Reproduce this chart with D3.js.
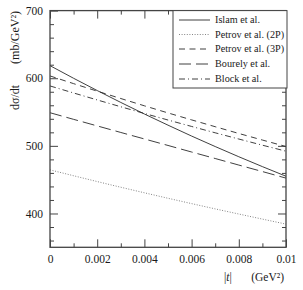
<!DOCTYPE html>
<html>
<head>
<meta charset="utf-8">
<script src="https://cdn.jsdelivr.net/npm/d3@7"></script>
<style>
  html, body { margin: 0; padding: 0; background: #fff; }
  svg { display: block; }
  svg text { font-family: "Liberation Serif", "DejaVu Serif", "Times New Roman", serif; fill: #1a1a1a; }
</style>
</head>
<body>
<div id="chart"></div>
<script>
// |t| values (GeV^2) and dσ/dt curves (mb/GeV^2)
const tValues = [0, 0.001, 0.002, 0.003, 0.004, 0.005, 0.006, 0.007, 0.008, 0.009, 0.01];
const islam   = [618.6, 599.9, 581.8, 564.2, 547.1, 530.6, 514.5, 499.0, 483.9, 469.3, 455.1];
const petrov2 = [464.5, 455.8, 447.2, 438.8, 430.6, 422.5, 414.6, 406.8, 399.2, 391.7, 384.3];
const petrov3 = [603.4, 592.0, 580.9, 570.0, 559.2, 548.7, 538.4, 528.3, 518.3, 508.6, 499.0];
const bourely = [549.0, 539.2, 529.5, 519.8, 510.2, 500.6, 490.9, 481.3, 471.6, 462.0, 452.3];
const block   = [588.6, 578.2, 567.9, 557.8, 547.9, 538.2, 528.7, 519.3, 510.1, 501.0, 492.1];

const seriesNames = ["Islam et al.", "Petrov et al. (2P)", "Petrov et al. (3P)", "Bourely et al.", "Block et al."];
const seriesValues = [islam, petrov2, petrov3, bourely, block];

const xMajorTicks = [0, 0.002, 0.004, 0.006, 0.008, 0.01];
const xMinorTicks = [0.001, 0.003, 0.005, 0.007, 0.009];
const yMajorTicks = [400, 500, 600, 700];
const yMinorTicks = [360, 380, 420, 440, 460, 480, 520, 540, 560, 580, 620, 640, 660, 680];

const W = 303, H = 290;
const plotL = 50, plotR = 286, plotT = 10.6, plotB = 247.3;
const serif = '"Liberation Serif", "DejaVu Serif", "Times New Roman", serif';

// line styles per series
const dashes = [null, "1,1.6", "6,4.5", "12,5", "6,3,1,3"];
const colors = ["#2a2a2a", "#777", "#2a2a2a", "#2a2a2a", "#2a2a2a"];

const svg = d3.select("#chart").append("svg")
  .attr("width", W).attr("height", H)
  .attr("font-family", serif);

const x = d3.scaleLinear().domain([0, 0.01]).range([plotL, plotR]);
const y = d3.scaleLinear().domain([350, 700]).range([plotB, plotT]);

const fmt = d => d === 0 ? "0" : String(+d.toFixed(3));

function styleAxis(g) {
  g.select(".domain").remove();
  g.attr("font-family", serif);
  g.selectAll("line").attr("stroke", "#444").attr("stroke-width", 1);
  g.selectAll("text").attr("font-size", 11.5).attr("fill", "#1a1a1a");
}

// bottom axis
svg.append("g").attr("transform", `translate(0,${plotB})`)
  .call(d3.axisBottom(x).tickValues(xMajorTicks).tickFormat(fmt).tickSizeInner(-8).tickSizeOuter(0).tickPadding(8))
  .call(styleAxis);
svg.append("g").attr("transform", `translate(0,${plotB})`)
  .call(d3.axisBottom(x).tickValues(xMinorTicks).tickFormat("").tickSizeInner(-4).tickSizeOuter(0))
  .call(styleAxis);
// top axis
svg.append("g").attr("transform", `translate(0,${plotT})`)
  .call(d3.axisTop(x).tickValues(xMajorTicks).tickFormat("").tickSizeInner(-8).tickSizeOuter(0))
  .call(styleAxis);
svg.append("g").attr("transform", `translate(0,${plotT})`)
  .call(d3.axisTop(x).tickValues(xMinorTicks).tickFormat("").tickSizeInner(-4).tickSizeOuter(0))
  .call(styleAxis);
// left axis
svg.append("g").attr("transform", `translate(${plotL},0)`)
  .call(d3.axisLeft(y).tickValues(yMajorTicks).tickFormat(d3.format("d")).tickSizeInner(-8).tickSizeOuter(0).tickPadding(7))
  .call(styleAxis);
svg.append("g").attr("transform", `translate(${plotL},0)`)
  .call(d3.axisLeft(y).tickValues(yMinorTicks).tickFormat("").tickSizeInner(-4).tickSizeOuter(0))
  .call(styleAxis);
// right axis
svg.append("g").attr("transform", `translate(${plotR},0)`)
  .call(d3.axisRight(y).tickValues(yMajorTicks).tickFormat("").tickSizeInner(-8).tickSizeOuter(0))
  .call(styleAxis);
svg.append("g").attr("transform", `translate(${plotR},0)`)
  .call(d3.axisRight(y).tickValues(yMinorTicks).tickFormat("").tickSizeInner(-4).tickSizeOuter(0))
  .call(styleAxis);

// curves
const line = d3.line().x((d, i) => x(tValues[i])).y(d => y(d));
svg.append("g").selectAll("path")
  .data(seriesValues)
  .join("path")
  .attr("d", d => line(d))
  .attr("fill", "none")
  .attr("stroke", (d, i) => colors[i])
  .attr("stroke-width", 0.9)
  .attr("stroke-dasharray", (d, i) => dashes[i]);

// frame
svg.append("rect")
  .attr("x", plotL).attr("y", plotT)
  .attr("width", plotR - plotL).attr("height", plotB - plotT)
  .attr("fill", "none").attr("stroke", "#444").attr("stroke-width", 1.3);

// legend
const lg = svg.append("g");
lg.append("rect")
  .attr("x", 173).attr("y", plotT)
  .attr("width", plotR + 1 - 173).attr("height", 88 - plotT)
  .attr("fill", "#fff").attr("stroke", "#444").attr("stroke-width", 1);
const legY = [20, 34.5, 49, 64, 79];
const items = lg.selectAll("g.item")
  .data(seriesNames)
  .join("g").attr("class", "item")
  .attr("transform", (d, i) => `translate(0,${legY[i]})`);
items.append("line")
  .attr("x1", 179).attr("x2", 210)
  .attr("stroke", (d, i) => colors[i])
  .attr("stroke-width", 0.9)
  .attr("stroke-dasharray", (d, i) => dashes[i]);
items.append("text")
  .attr("x", 215).attr("y", 3.3)
  .attr("font-size", 10.2)
  .text(d => d);

// axis titles
svg.append("text")
  .attr("transform", "translate(19,110) rotate(-90)")
  .attr("font-size", 12).attr("text-anchor", "start")
  .text("dσ/dt");
svg.append("text")
  .attr("transform", "translate(19,11) rotate(-90)")
  .attr("font-size", 12).attr("text-anchor", "end")
  .text("(mb/GeV²)");
const xt = svg.append("text")
  .attr("x", 224).attr("y", 281)
  .attr("font-size", 11.5);
xt.append("tspan").text("|");
xt.append("tspan").attr("font-style", "italic").text("t");
xt.append("tspan").text("|");
svg.append("text")
  .attr("x", 284).attr("y", 281)
  .attr("font-size", 11.5).attr("text-anchor", "end")
  .text("(GeV²)");
</script>
</body>
</html>
